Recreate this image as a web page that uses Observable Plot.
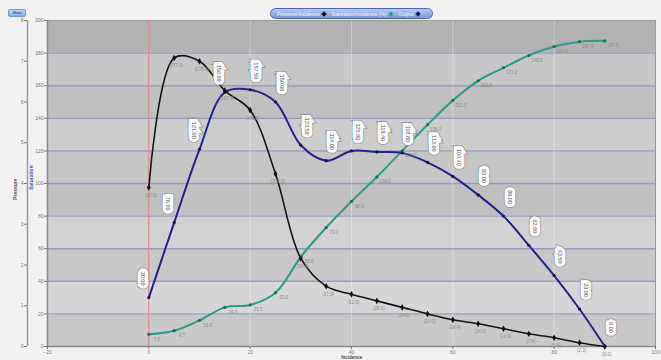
<!DOCTYPE html>
<html><head><meta charset="utf-8">
<script src="https://cdn.jsdelivr.net/npm/d3@7"></script>
<script src="https://cdn.jsdelivr.net/npm/@observablehq/plot@0.6"></script>
<style>
html,body{margin:0;padding:0;background:#f2f2f2;font-family:"Liberation Sans",Arial,sans-serif;}
#wrap{position:relative;width:661px;height:360px;overflow:hidden;}
#btn{position:absolute;left:8px;top:9px;width:18px;height:8px;border-radius:2px;background:linear-gradient(#b8d8f8,#7fb0e4);border:1px solid #6a9ad0;box-sizing:border-box;font-size:4px;line-height:6px;color:#234;text-align:center;}
#legend{position:absolute;left:270px;top:8px;width:163px;height:11px;border-radius:6px;background:linear-gradient(#b6cbf0,#7b98d6);border:1px solid #4a66b0;box-sizing:border-box;font-size:5px;color:#f4f6ff;display:flex;align-items:center;padding-left:6px;white-space:nowrap;}
#legend span.t{margin-right:2px;}
#legend span.m{display:inline-block;width:4px;height:4px;margin-right:6px;}
</style></head>
<body><div id="wrap"><div id="btn">Main</div>
<div id="legend"><span class="t">Pressure/Incidence</span><span class="m" style="background:#111;transform:rotate(45deg)"></span><span class="t">Saturation/Incidence (%)</span><span class="m" style="background:#2a9a88;border-radius:50%"></span><span class="t">Output</span><span class="m" style="background:#1a1a60;transform:rotate(45deg)"></span></div>
</div>
<script>
const incidence = [0,5,10,15,20,25,30,35,40,45,50,55,60,65,70,75,80,85,90];
const pressure = [97.6,177,175,157,145,106,54,37,32,28,24,20,16.4,14,10.9,7.8,5.4,2.3,0];
const output = [30,76,121,156,157.5,150,123.5,114,120,119.4,118.8,113,104.4,93,80,62,43.5,23,0];
const saturation = [7.5,9.7,16,24,25.5,33,55,73,89,104,120,136,151,163,171,178.5,184,187,187.5];
const xTicks = [-20,0,20,40,60,80,100];
const yTicks = [0,20,40,60,80,100,120,140,160,180,200];
const pressureTicks = [0,1,2,3,4,5,6,7,8];

const bandFills = ["#c9c9c9","#d6d6d6","#c8c8c8","#d2d2d2","#c0c0c0","#c6c6c6","#cdcdcd","#c0c0c0","#c7c7c7","#b2b2b2"];
const rows = incidence.map((x,i)=>({x, pressure:pressure[i], output:output[i], saturation:saturation[i]}));
const bands = d3.pairs(yTicks);

function boxLabels(data, dx) {
  const common = {x:"x", y:"output", text:d=>d.output.toFixed(2), rotate:90, dx, dy:-19, fontSize:5.5, strokeLinejoin:"miter"};
  return [
    Plot.text(data, {...common, fill:"none", stroke:"#8e8e8e", strokeWidth:8}),
    Plot.text(data, {...common, fill:"#555", stroke:"#fbfbfb", strokeWidth:6.5, paintOrder:"stroke"})
  ];
}

const chart = Plot.plot({
  width:661, height:360,
  marginLeft:47, marginRight:6, marginTop:20, marginBottom:14,
  x:{domain:[-20,100]},
  y:{domain:[0,200]},
  color:{type:"identity"},
  style:{background:"transparent", fontFamily:"Liberation Sans, Arial, sans-serif", fontSize:"6px", overflow:"visible"},
  marks:[
    Plot.rect(bands, {x1:-20, x2:100, y1:d=>d[0], y2:d=>d[1], fill:(d,i)=>bandFills[i]}),
    Plot.ruleY(yTicks.slice(1,-1), {stroke:"#8f93bd", strokeWidth:1.4, strokeOpacity:0.85}),
    Plot.ruleX(xTicks.slice(1,-1), {stroke:"#ffffff", strokeOpacity:0.35}),
    Plot.frame({stroke:"#9a9a9a"}),
    Plot.ruleX([0], {stroke:"#e07474", strokeWidth:1}),
    Plot.ruleX([-20], {stroke:"#8a8a8a", strokeWidth:1.5}),
    Plot.ruleX([-20], {stroke:"#9a9a9a", strokeWidth:1.5, dx:-20}),
    Plot.ruleY([0], {stroke:"#8a8a8a", strokeWidth:1.5}),
    Plot.axisX(xTicks, {tickSize:3, tickPadding:1, fontSize:5, color:"#777", label:null}),
    Plot.axisY(yTicks, {tickSize:3, tickPadding:1, fontSize:5, color:"#777", label:null}),
    Plot.axisY(pressureTicks.map(p=>p*25), {tickFormat:d=>d/25, dx:-20, tickSize:3, tickPadding:1, fontSize:5, color:"#777", label:null}),
    Plot.text(["Pressure"], {y:90, frameAnchor:"left", dx:-32, rotate:-90, fontSize:5, fill:"#555", fontWeight:"bold"}),
    Plot.text(["Saturation"], {y:96, frameAnchor:"left", dx:-16, rotate:-90, fontSize:5, fill:"#3a58c0", fontWeight:"bold"}),
    Plot.text(["Incidence"], {x:40, frameAnchor:"bottom", dy:12, fontSize:4.5, fill:"#445", fontWeight:"bold"}),
    // lines
    Plot.line(rows, {x:"x", y:"saturation", curve:"catmull-rom", stroke:"#2a9c88", strokeWidth:2}),
    Plot.line(rows, {x:"x", y:"output", curve:"catmull-rom", stroke:"#23238c", strokeWidth:2}),
    Plot.line(rows, {x:"x", y:"pressure", curve:"catmull-rom", stroke:"#151515", strokeWidth:1.6}),
    Plot.dot(rows, {x:"x", y:"saturation", r:1.6, fill:"#1d6e60"}),
    Plot.dot(rows, {x:"x", y:"output", r:1.6, fill:"#141450"}),
    Plot.dot(rows, {x:"x", y:"pressure", r:2, symbol:"diamond", fill:"#111"}),
    // small value labels
    Plot.text(rows, {x:"x", y:"pressure", text:d=>"("+d.pressure.toFixed(1)+")", dx:2, dy:8, fontSize:4.5, fill:"#8a8a8a"}),
    Plot.text(rows, {x:"x", y:"saturation", text:d=>d.saturation.toFixed(1), dx:8, dy:5, fontSize:4.5, fill:"#8a8a8a"}),
    // boxed labels for output
    ...boxLabels(rows.filter(d=>d.x<=15), -6),
    ...boxLabels(rows.filter(d=>d.x>15), 6)
  ]
});
document.getElementById("wrap").prepend(chart);
</script>
</body></html>
